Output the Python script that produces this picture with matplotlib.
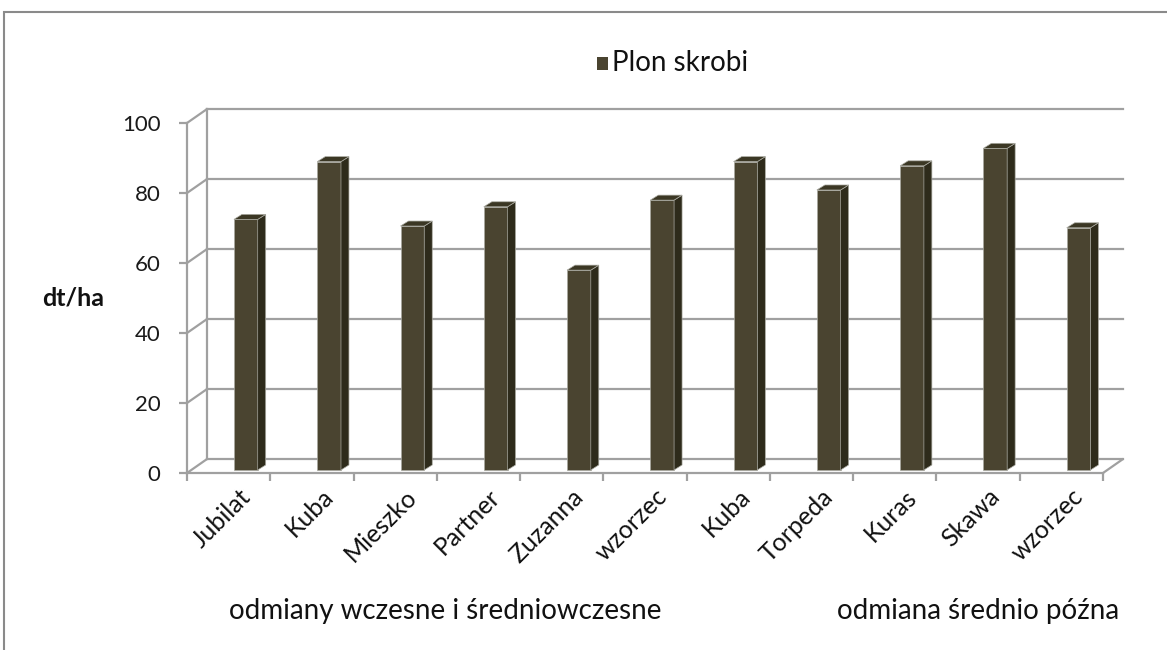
import matplotlib.pyplot as plt
from matplotlib.patches import Polygon, Rectangle

plt.rcParams['font.family'] = ['Lato', 'DejaVu Sans']

# dane
odmiany = ['Jubilat', 'Kuba', 'Mieszko', 'Partner', 'Zuzanna', 'wzorzec',
           'Kuba', 'Torpeda', 'Kuras', 'Skawa', 'wzorzec']
plon = [71.6, 88.1, 69.7, 75.2, 57.1, 77.1, 88.1, 80.0, 86.9, 91.9, 69.2]
grupy = ['odmiany wczesne i średniowczesne', 'odmiana średnio późna']
yticks = [0, 20, 40, 60, 80, 100]

front = '#4a4430'
side = '#2e2b1b'
top = '#3b3724'
grid = '#a0a0a0'

W, H = 1167, 650
fig = plt.figure(figsize=(W / 100, H / 100), dpi=100)
ax = fig.add_axes([187 / W, (H - 473) / H, 916 / W, 350 / H])
n = len(odmiany)
ax.set_xlim(0, n)
ax.set_ylim(0, 100)

# glebokosc sciany tylnej (w jednostkach danych)
dx, dy = 0.235, 3.9

# sciana tylna + boczna
for t in yticks:
    ax.plot([dx, n + dx], [t + dy, t + dy], color=grid, lw=1.6, clip_on=False, zorder=1)
    ax.plot([0, dx], [t, t + dy], color=grid, lw=1.6, clip_on=False, zorder=1)
ax.plot([dx, dx], [dy, 100 + dy], color=grid, lw=1.6, clip_on=False, zorder=1)
ax.plot([n, n + dx], [0, dy], color=grid, lw=1.6, clip_on=False, zorder=1)

# slupki 3D
floor = 0.86
bw = 0.285
bdx, bdy = 0.096, 1.43
xs = [i + 0.564 for i in range(n)]
bars = ax.bar(xs, plon, width=bw, bottom=floor, align='edge', color=front,
              edgecolor='#a9a9a0', linewidth=0.5, zorder=3)
for b in bars:
    x0, y0 = b.get_x(), b.get_y()
    x1, y1 = x0 + b.get_width(), y0 + b.get_height()
    ax.add_patch(Polygon([(x1, y0), (x1 + bdx, y0 + bdy), (x1 + bdx, y1 + bdy), (x1, y1)],
                         closed=True, facecolor=side, edgecolor='#a9a9a0', lw=0.5, zorder=3))
    ax.add_patch(Polygon([(x0, y1), (x0 + bdx, y1 + bdy), (x1 + bdx, y1 + bdy), (x1, y1)],
                         closed=True, facecolor=top, edgecolor='#a9a9a0', lw=0.5, zorder=3))

# osie
for s in ['top', 'right']:
    ax.spines[s].set_visible(False)
for s in ['left', 'bottom']:
    ax.spines[s].set_color(grid)
    ax.spines[s].set_linewidth(1.6)
ax.set_yticks(yticks)
ax.set_yticklabels([str(t) for t in yticks], fontsize=16, color='#1a1a1a')
ax.set_xticks(range(n + 1))
ax.set_xticklabels([])
ax.tick_params(axis='y', direction='out', length=6, width=1.6, color=grid, pad=13)
ax.tick_params(axis='x', direction='out', length=6, width=1.6, color=grid)

for i, lab in enumerate(odmiany):
    ax.text(i + 0.62, -3.4, lab, rotation=45, rotation_mode='anchor',
            ha='right', va='top', fontsize=18, color='#111111', clip_on=False)

ax.text(-1.37, 50, 'dt/ha', fontsize=18, fontweight='bold', ha='center', va='center',
        color='#111111', transform=ax.transData)

fig.text(445 / W, 1 - 611 / H, grupy[0], fontsize=20, ha='center', va='center', color='#111111')
fig.text(978 / W, 1 - 611 / H, grupy[1], fontsize=20, ha='center', va='center', color='#111111')

# legenda
fig.patches.append(Rectangle((597 / W, 1 - 70 / H), 11 / W, 13 / H, transform=fig.transFigure,
                             facecolor=front, edgecolor='none'))
fig.text(612 / W, 1 - 63 / H, 'Plon skrobi', fontsize=20, ha='left', va='center', color='#111111')

# ramka wykresu
fig.patches.append(Rectangle((4 / W, -0.1), 1.2, 1 - 12 / H + 0.1, transform=fig.transFigure,
                             facecolor='none', edgecolor='#8a8a8a', lw=1.5))

fig.savefig('out.png', dpi=100)
